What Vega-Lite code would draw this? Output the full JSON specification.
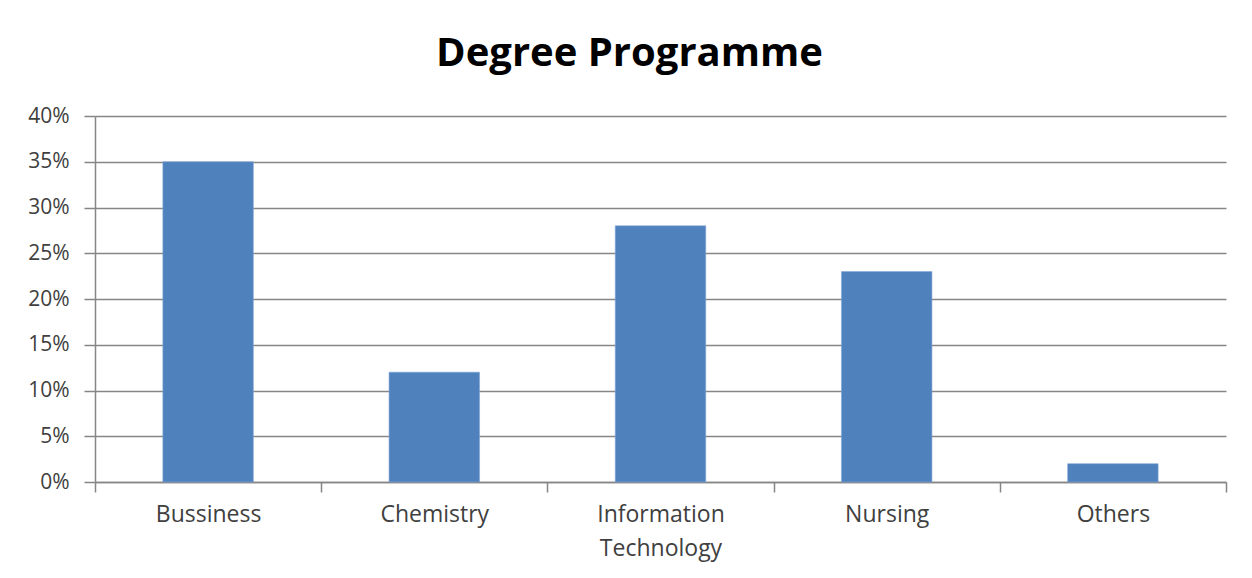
{
  "$schema": "https://vega.github.io/schema/vega-lite/v6.json",
  "autosize": "none",
  "width": 1131,
  "height": 366,
  "padding": {"left": 95, "top": 116, "right": 26, "bottom": 96},
  "background": "white",
  "title": {
    "text": "Degree Programme",
    "font": "Open Sans",
    "fontSize": 40,
    "fontWeight": "bold",
    "color": "#000000",
    "anchor": "middle",
    "baseline": "alphabetic",
    "dx": -31,
    "offset": -1
  },
  "data": {
    "values": [
      {"programme": "Bussiness", "share": 0.35},
      {"programme": "Chemistry", "share": 0.12},
      {"programme": "Information Technology", "share": 0.28},
      {"programme": "Nursing", "share": 0.23},
      {"programme": "Others", "share": 0.02}
    ]
  },
  "mark": {"type": "bar", "color": "#4F81BD", "stroke": "#7FA6D6", "strokeWidth": 0.6, "width": {"band": 0.4}},
  "encoding": {
    "x": {
      "field": "programme",
      "type": "nominal",
      "sort": null,
      "title": null,
      "scale": {"paddingInner": 0, "paddingOuter": 0},
      "axis": {
        "labelAngle": 0,
        "tickBand": "extent",
        "tickSize": 10,
        "tickColor": "#868686",
        "domainColor": "#868686",
        "domainWidth": 1.5,
        "tickWidth": 1.5,
        "labelFont": "Open Sans",
        "labelFontSize": 23,
        "labelColor": "#404040",
        "labelPadding": 11,
        "labelLineHeight": 34,
        "labelExpr": "datum.value == 'Information Technology' ? ['Information', 'Technology'] : datum.value",
        "grid": false
      }
    },
    "y": {
      "field": "share",
      "type": "quantitative",
      "title": null,
      "scale": {"domain": [0, 0.4]},
      "axis": {
        "format": "0%",
        "values": [0, 0.05, 0.1, 0.15, 0.2, 0.25, 0.3, 0.35, 0.4],
        "tickSize": 11,
        "tickColor": "#868686",
        "tickWidth": 1.5,
        "domainColor": "#868686",
        "domainWidth": 1.5,
        "gridColor": "#868686",
        "gridWidth": 1.5,
        "grid": true,
        "labelFont": "Open Sans",
        "labelFontSize": 21,
        "labelColor": "#404040",
        "labelPadding": 15
      }
    }
  },
  "config": {
    "view": {"stroke": null}
  }
}
